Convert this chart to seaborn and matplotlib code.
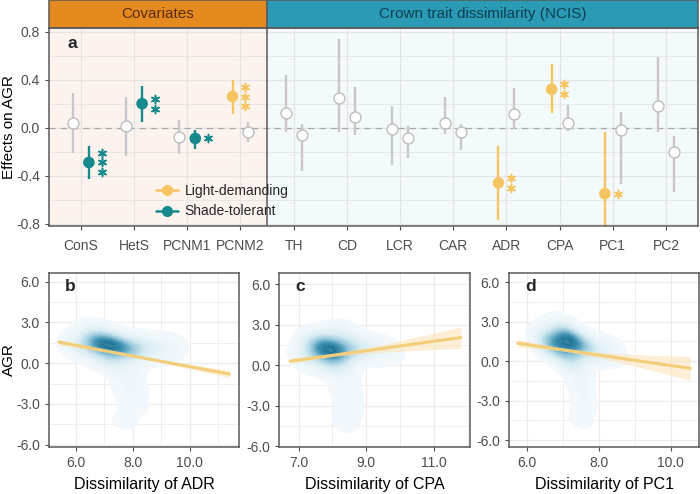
import numpy as np
import pandas as pd
import seaborn as sns
from matplotlib import pyplot as plt
from matplotlib.colors import LinearSegmentedColormap
from matplotlib.lines import Line2D
from matplotlib.patches import Rectangle

# panel a: model estimates
covariates = ["ConS", "HetS", "PCNM1", "PCNM2"]
crown_traits = ["TH", "CD", "LCR", "CAR", "ADR", "CPA", "PC1", "PC2"]

light_est = [0.04, 0.01, -0.08, 0.26, 0.12, 0.25, -0.01, 0.04, -0.46, 0.32, -0.55, 0.18]
light_lo = [-0.21, -0.24, -0.22, 0.11, -0.04, -0.04, -0.31, -0.05, -0.77, 0.12, -0.86, -0.04]
light_hi = [0.29, 0.26, 0.06, 0.40, 0.44, 0.74, 0.18, 0.26, -0.15, 0.53, -0.04, 0.59]
light_sig = [0, 0, 0, 3, 0, 0, 0, 0, 2, 2, 1, 0]

shade_est = [-0.29, 0.20, -0.09, -0.04, -0.06, 0.09, -0.09, -0.04, 0.11, 0.04, -0.02, -0.20]
shade_lo = [-0.43, 0.05, -0.18, -0.12, -0.36, -0.06, -0.25, -0.19, -0.01, -0.03, -0.47, -0.54]
shade_hi = [-0.15, 0.35, -0.02, 0.05, 0.03, 0.34, 0.01, 0.03, 0.33, 0.19, 0.13, -0.07]
shade_sig = [3, 2, 1, 0, 0, 0, 0, 0, 0, 0, 0, 0]

# panels b-d: fitted lines (x, y, half width of the confidence band)
adr_fit_x = [5.4, 7.0, 8.4, 9.9, 11.4]
adr_fit_y = [1.55, 0.92, 0.37, -0.21, -0.8]
adr_fit_ci = [0.22, 0.08, 0.08, 0.16, 0.28]

cpa_fit_x = [6.75, 8.0, 9.3, 10.5, 11.8]
cpa_fit_y = [0.3, 0.73, 1.18, 1.60, 2.05]
cpa_fit_ci = [0.2, 0.08, 0.25, 0.5, 0.8]

pc1_fit_x = [5.75, 7.0, 8.2, 9.4, 10.55]
pc1_fit_y = [1.35, 0.86, 0.38, -0.10, -0.55]
pc1_fit_ci = [0.3, 0.08, 0.25, 0.55, 0.9]

adr_cloud_x = [7.1, 6.7, 7.5, 7.9, 6.3, 7.2, 8.4, 8.9, 6.8, 7.7, 7.9, 8.0, 7.7, 9.3]
adr_cloud_y = [1.4, 1.5, 1.2, 1.0, 1.1, 0.4, 1.3, 0.9, 2.2, -0.6, -1.9, -3.1, -4.3, 1.5]
adr_cloud_w = [6, 4, 4, 3, 1.5, 2.5, 1.5, 0.8, 1.2, 0.5, 0.3, 0.2, 0.15, 0.3]

cpa_cloud_x = [7.9, 7.6, 8.2, 8.6, 7.4, 8.0, 9.1, 9.6, 8.2, 8.3, 8.4, 8.5, 8.4]
cpa_cloud_y = [1.2, 1.5, 1.0, 1.3, 0.7, 0.3, 1.2, 1.0, 2.2, -0.6, -1.9, -3.2, -4.3]
cpa_cloud_w = [6, 4, 4, 2.5, 2, 2.5, 1, 0.5, 1.2, 0.5, 0.3, 0.25, 0.2]

pc1_cloud_x = [7.1, 6.8, 7.4, 6.6, 7.8, 7.2, 8.3, 7.0, 7.4, 7.5, 7.6, 7.5]
pc1_cloud_y = [1.6, 1.2, 1.3, 1.5, 0.9, 0.3, 0.8, 2.3, -0.6, -1.9, -3.2, -4.4]
pc1_cloud_w = [6, 4, 4, 2, 2, 2.5, 0.8, 1.2, 0.5, 0.3, 0.25, 0.2]

LIGHT = "#f7c462"
SHADE = "#15898c"
GREY = "#c8c8c8"
TEXT = "#4d4d4d"
SPINE = "#5a5a5a"

sns.set_style("white")
plt.rcParams["font.family"] = ["Liberation Sans", "DejaVu Sans"]

fig = plt.figure(figsize=(7, 4.94), dpi=100)

# ---------- panel a ----------
ax = fig.add_axes([0.07, 0.5425, 0.927, 0.4005])
cats = covariates + crown_traits
rows = []
for i, c in enumerate(cats):
    rows.append(dict(cat=c, group="Light-demanding", pos=i - 0.15, est=light_est[i],
                     lo=light_lo[i], hi=light_hi[i], sig=light_sig[i]))
    rows.append(dict(cat=c, group="Shade-tolerant", pos=i + 0.15, est=shade_est[i],
                     lo=shade_lo[i], hi=shade_hi[i], sig=shade_sig[i]))
df = pd.DataFrame(rows)
df["colour"] = np.where(df["sig"] == 0, GREY, np.where(df["group"] == "Light-demanding", LIGHT, SHADE))

ax.axvspan(-0.6, 3.5, color="#fdf3ee", zorder=0)
ax.axvspan(3.5, 11.6, color="#f3fafc", zorder=0)
for k, y in enumerate(np.arange(-0.8, 0.81, 0.2)):
    ax.axhline(y, color="#e4e4e4", lw=0.9 if k % 2 == 0 else 0.6, zorder=0.5)
for i in range(len(cats)):
    ax.axvline(i, color="#e4e4e4", lw=0.9, zorder=0.5)
ax.axhline(0, color="#a8a8a8", lw=0.9, ls=(0, (5, 4)), zorder=1)
ax.axvline(3.5, color=SPINE, lw=1.1, zorder=1)

ax.vlines(df["pos"], df["lo"], df["hi"], colors=df["colour"], lw=1.7, zorder=2)
sig = df[df["sig"] > 0]
ns = df[df["sig"] == 0]
ax.scatter(ns["pos"], ns["est"], s=62, facecolor="white", edgecolor="#bdbdbd", lw=1.0, zorder=3)
sns.scatterplot(data=sig, x="pos", y="est", hue="group", palette={"Light-demanding": LIGHT, "Shade-tolerant": SHADE},
                s=70, edgecolor="none", legend=False, ax=ax, zorder=3)
star_gap = 0.082
for _, r in sig.iterrows():
    n = int(r["sig"])
    ys = r["est"] + (np.arange(n) - (n - 1) / 2) * star_gap
    ax.scatter([r["pos"] + 0.24] * n, ys, marker=(6, 2, 0), s=34, color=r["colour"],
               lw=1.15, zorder=4)

ax.set_xlim(-0.6, 11.6)
ax.set_ylim(-0.82, 0.83)
ax.set_xticks(range(len(cats)))
ax.set_xticklabels(cats)
ax.set_yticks([-0.8, -0.4, 0.0, 0.4, 0.8])
ax.set_yticklabels(["-0.8", "-0.4", "0.0", "0.4", "0.8"])
ax.set_xlabel("")
ax.set_ylabel("Effects on AGR", fontsize=11, color="black")
ax.yaxis.set_label_coords(-0.051, 0.5)
ax.tick_params(axis="both", colors=TEXT, labelsize=10, length=3, direction="out",
               bottom=True, left=True, width=0.8)
ax.tick_params(axis="x", pad=6)
for s in ax.spines.values():
    s.set_color(SPINE)
    s.set_linewidth(1.1)
ax.text(0.028, 0.92, "a", transform=ax.transAxes, fontsize=12.5, fontweight="bold", va="center")

# strip headers
trans = ax.get_xaxis_transform()
strip_h = 0.14
ax.add_patch(Rectangle((-0.6, 1.0), 4.1, strip_h, transform=trans, clip_on=False,
                       facecolor="#e58a1f", edgecolor=SPINE, lw=1.1))
ax.add_patch(Rectangle((3.5, 1.0), 8.1, strip_h, transform=trans, clip_on=False,
                       facecolor="#2a9ab5", edgecolor=SPINE, lw=1.1))
ax.text(1.45, 1.0 + strip_h / 2, "Covariates", transform=trans, ha="center", va="center",
        fontsize=11, color="#5a2a08")
ax.text(7.55, 1.0 + strip_h / 2, "Crown trait dissimilarity (NCIS)", transform=trans,
        ha="center", va="center", fontsize=11, color="#0d3f52")

handles = [Line2D([], [], color=LIGHT, marker="o", markersize=7, lw=1.8, label="Light-demanding"),
           Line2D([], [], color=SHADE, marker="o", markersize=7, lw=1.8, label="Shade-tolerant")]
ax.legend(handles=handles, loc="lower left", bbox_to_anchor=(0.145, -0.025), frameon=False,
          fontsize=10, handlelength=1.6, handletextpad=0.5, labelspacing=0.45)

# ---------- panels b-d ----------
cloud_cmap = LinearSegmentedColormap.from_list(
    "cloud", ["#f3f9fc", "#d3e9f1", "#94c7da", "#4696b6", "#1a7193"])
panels = [
    ("b", "ADR", adr_cloud_x, adr_cloud_y, adr_cloud_w, adr_fit_x, adr_fit_y, adr_fit_ci,
     (5.05, 11.75), (-6.15, 6.65), [6.0, 8.0, 10.0], 0.07),
    ("c", "CPA", cpa_cloud_x, cpa_cloud_y, cpa_cloud_w, cpa_fit_x, cpa_fit_y, cpa_fit_ci,
     (6.43, 12.06), (-6.05, 6.85), [7.0, 9.0, 11.0], 0.399),
    ("d", "PC1", pc1_cloud_x, pc1_cloud_y, pc1_cloud_w, pc1_fit_x, pc1_fit_y, pc1_fit_ci,
     (5.5, 10.8), (-6.5, 6.7), [6.0, 8.0, 10.0], 0.727),
]
for label, trait, cx, cy, cw, fx, fy, fci, xlim, ylim, xticks, left in panels:
    bx = fig.add_axes([left, 0.0957, 0.272, 0.352])
    step = xticks[1] - xticks[0]
    for k, v in enumerate(np.arange(xticks[0] - step * 2, xticks[-1] + step * 2, step / 2)):
        bx.axvline(v, color="#ececec", lw=0.9 if k % 2 == 0 else 0.6, zorder=0)
    for k, v in enumerate(np.arange(-7.5, 7.6, 1.5)):
        bx.axhline(v, color="#ececec", lw=0.9 if k % 2 == 1 else 0.6, zorder=0)
    sns.kdeplot(x=cx, y=cy, weights=cw, fill=True, cmap=cloud_cmap, levels=30, thresh=0.012,
                bw_adjust=0.85, alpha=0.9, ax=bx, zorder=1)
    lo = np.array(fy) - np.array(fci)
    hi = np.array(fy) + np.array(fci)
    bx.fill_between(fx, lo, hi, color="#fbe3b4", alpha=0.55, lw=0, zorder=2)
    sns.lineplot(x=fx, y=fy, color="#f3cd7a", lw=2.2, ax=bx, zorder=3)
    bx.set_xlim(*xlim)
    bx.set_ylim(*ylim)
    bx.set_xticks(xticks)
    bx.set_xticklabels([f"{t:.1f}" for t in xticks])
    bx.set_yticks([-6, -3, 0, 3, 6])
    bx.set_yticklabels(["-6.0", "-3.0", "0.0", "3.0", "6.0"])
    bx.set_xlabel(f"Dissimilarity of {trait}", fontsize=11.5, color="black", labelpad=5)
    bx.set_ylabel("AGR" if label == "b" else "", fontsize=11, color="black")
    bx.yaxis.set_label_coords(-0.175, 0.5)
    bx.tick_params(axis="both", colors=TEXT, labelsize=10, length=3, direction="out",
                   bottom=True, left=True, width=0.8)
    for s in bx.spines.values():
        s.set_color(SPINE)
        s.set_linewidth(1.1)
    bx.text(0.085, 0.92, label, transform=bx.transAxes, fontsize=12.5, fontweight="bold", va="center")

fig.savefig("out.png", dpi=100)
